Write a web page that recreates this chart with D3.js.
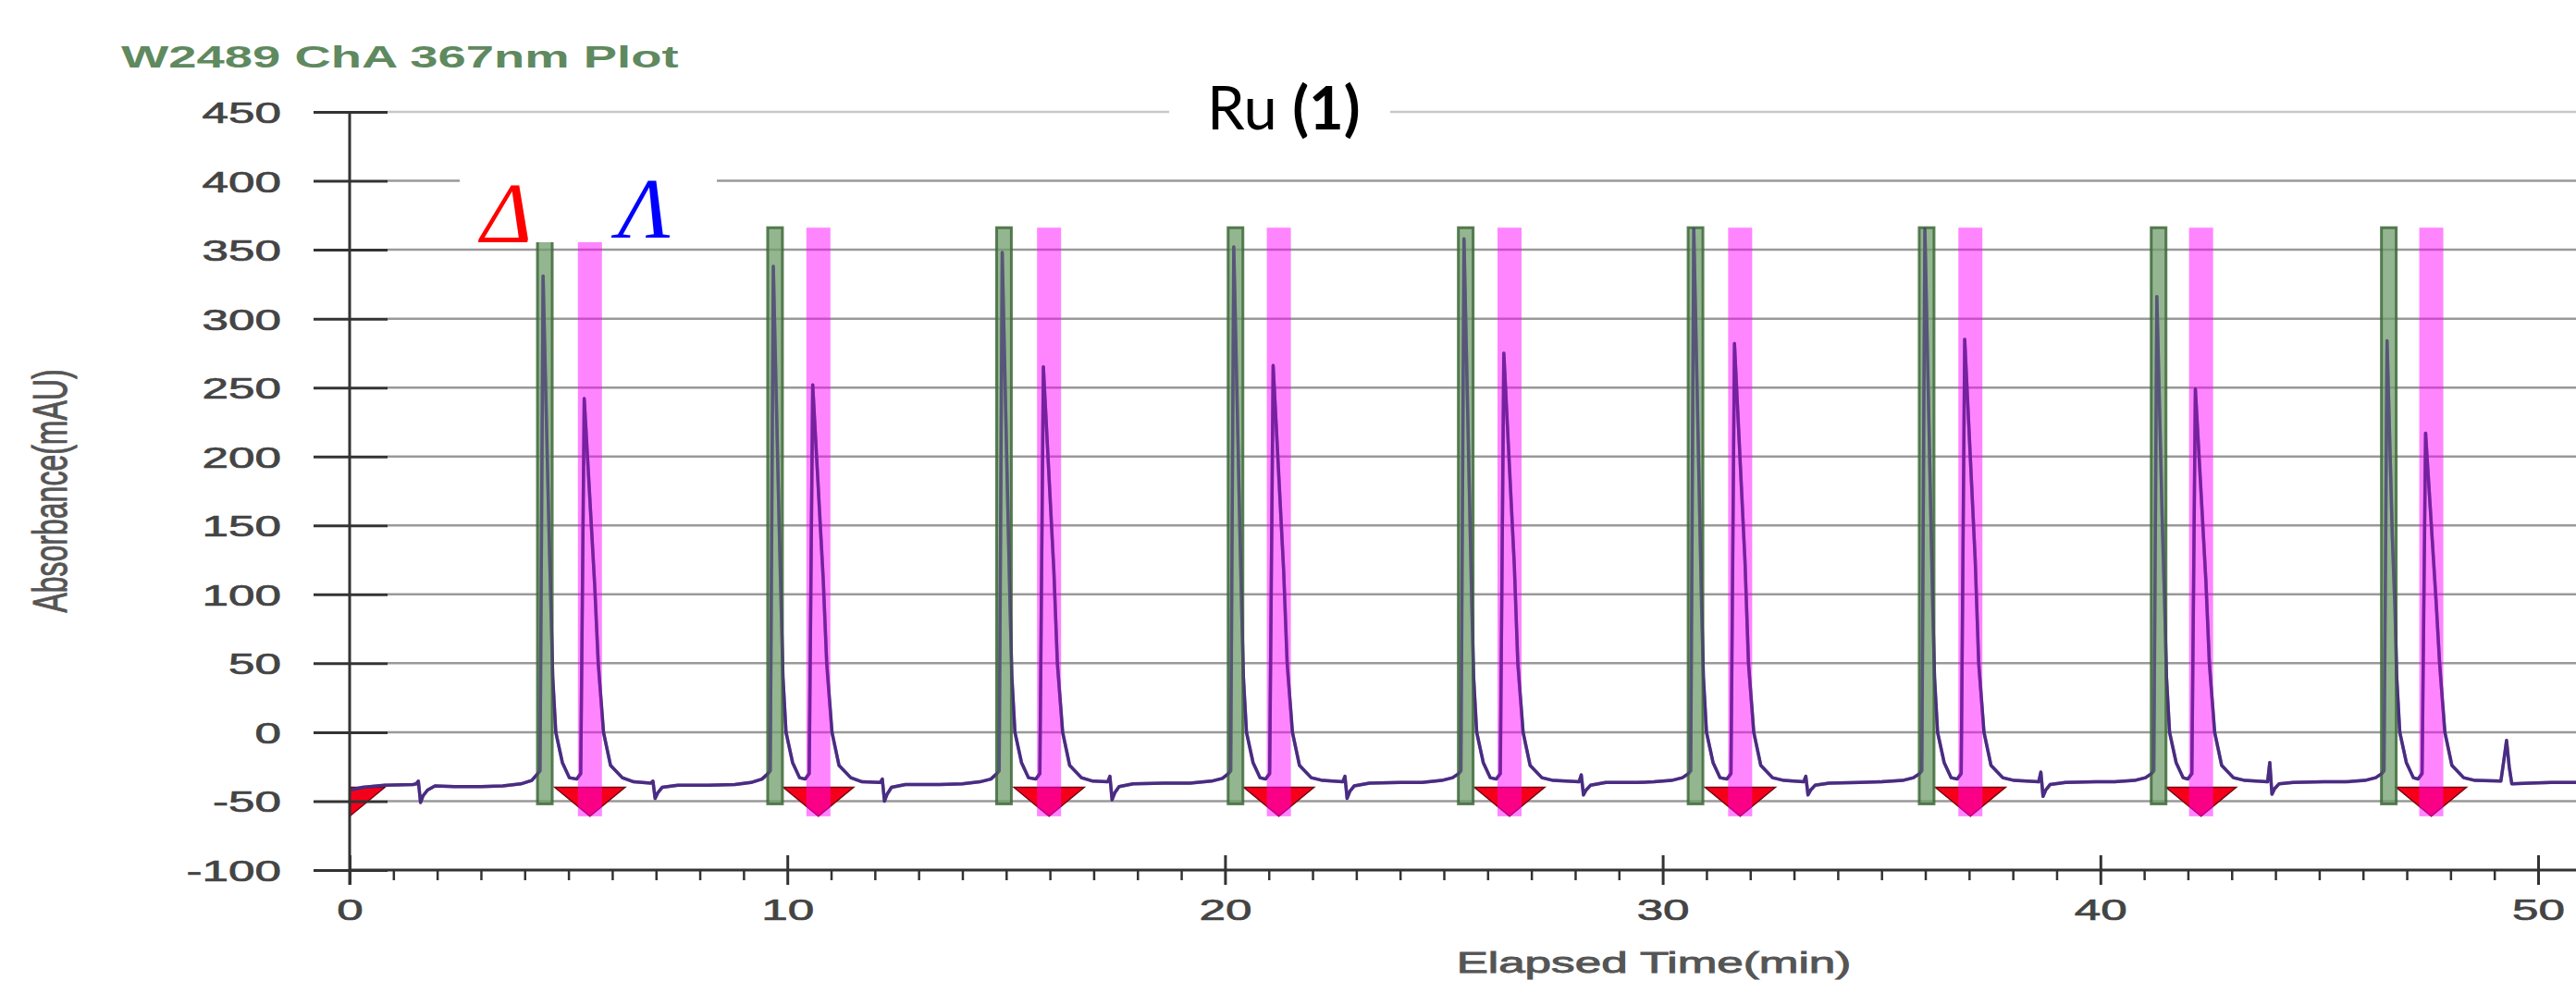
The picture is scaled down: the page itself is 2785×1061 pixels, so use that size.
<!DOCTYPE html>
<html lang="en">
<head>
<meta charset="UTF-8" />
<title>W2489 ChA 367nm Plot</title>
<style>
  html, body { margin: 0; padding: 0; background: #fff; }
  svg { display: block; }
  .sans { font-family: "Liberation Sans", Arial, sans-serif; }
</style>
</head>
<body>
<svg id="chart" width="2785" height="1061"></svg>
<script src="https://d3js.org/d3.v7.min.js"></script>
<script>
// axis ticks
const yTicks = [450, 400, 350, 300, 250, 200, 150, 100, 50, 0, -50, -100];
const xMajor = [0, 10, 20, 30, 40, 50];
const xMinor = [1,2,3,4,5,6,7,8,9,11,12,13,14,15,16,17,18,19,21,22,23,24,25,26,27,28,29,
                31,32,33,34,35,36,37,38,39,41,42,43,44,45,46,47,48,49];

// fraction windows (min): Δ in green, Λ in magenta, red markers
const deltaTimes  = [4.46, 9.72, 14.95, 20.24, 25.50, 30.75, 36.03, 41.33, 46.59];
const lambdaTimes = [5.49, 10.71, 15.98, 21.23, 26.50, 31.77, 37.03, 42.30, 47.56];
const markerTimes = [0, 5.49, 10.71, 15.98, 21.23, 26.50, 31.77, 37.03, 42.30, 47.56];

// detector trace [min, mAU]
const trace = [
  [0,-42],[0.3,-40],[0.8,-38.5],[1.45,-38],[1.52,-37.5],[1.57,-35.5],[1.62,-51],[1.68,-46],[1.78,-42],[1.95,-39],
  [2.4,-39.5],[3.0,-39.5],[3.5,-39],[3.91,-37.5],
  [4.16,-35],[4.30,-30],[4.35,-28],[4.42,331],[4.54,166],[4.60,90],[4.64,40],[4.71,0],[4.86,-22],[5.02,-33],
  [5.19,-34],[5.28,-30],[5.36,242],[5.60,106],[5.68,50],[5.80,0],[5.96,-24],[6.23,-33],[6.49,-36],
  [6.88,-37],[6.93,-35.5],[6.98,-48],[7.04,-44],[7.14,-40],[7.5,-38.5],[8.2,-38.5],[8.8,-38],[9.17,-36.5],
  [9.42,-34],[9.56,-30],[9.61,-28],[9.68,338],[9.80,169],[9.86,90],[9.90,40],[9.97,0],[10.12,-22],[10.28,-33],
  [10.41,-34],[10.50,-30],[10.58,252],[10.82,111],[10.90,50],[11.02,0],[11.18,-24],[11.45,-33],[11.71,-36],
  [12.12,-36.5],[12.17,-34],[12.22,-50],[12.28,-45],[12.38,-40],[12.7,-38],[13.4,-38],[14.0,-37.5],[14.40,-36],
  [14.65,-34],[14.79,-30],[14.84,-28],[14.91,348],[15.03,174],[15.09,90],[15.13,40],[15.20,0],[15.35,-22],[15.51,-33],
  [15.68,-34],[15.77,-30],[15.85,265],[16.09,117],[16.17,50],[16.29,0],[16.45,-24],[16.72,-33],[16.98,-35.5],
  [17.32,-36],[17.37,-32],[17.42,-49],[17.48,-44],[17.58,-39.5],[17.9,-37.5],[18.6,-37],[19.2,-37],[19.69,-35.5],
  [19.94,-33.5],[20.08,-30],[20.13,-28],[20.20,352],[20.32,176],[20.38,90],[20.42,40],[20.49,0],[20.64,-22],[20.80,-33],
  [20.93,-34],[21.02,-30],[21.10,266],[21.34,117],[21.42,50],[21.54,0],[21.70,-24],[21.97,-33],[22.23,-35],
  [22.69,-36],[22.74,-32],[22.79,-48],[22.85,-43],[22.95,-39],[23.3,-37],[24.0,-36.5],[24.5,-36.5],[24.95,-35],
  [25.20,-33],[25.34,-30],[25.39,-28],[25.46,358],[25.58,179],[25.64,90],[25.68,40],[25.75,0],[25.90,-22],[26.06,-33],
  [26.20,-34],[26.29,-30],[26.37,275],[26.61,121],[26.69,50],[26.81,0],[26.97,-24],[27.24,-33],[27.50,-35],
  [28.09,-36],[28.14,-31],[28.19,-45.5],[28.25,-42],[28.35,-38.5],[28.7,-36.5],[29.4,-36.5],[29.8,-36],[30.2,-35],
  [30.45,-33],[30.59,-30],[30.64,-28],[30.71,365],[30.83,182],[30.89,90],[30.93,40],[31.00,0],[31.15,-22],[31.31,-33],
  [31.47,-34],[31.56,-30],[31.64,282],[31.88,124],[31.96,50],[32.08,0],[32.24,-24],[32.51,-33],[32.77,-35],
  [33.22,-36],[33.27,-32],[33.32,-45.5],[33.38,-42],[33.48,-38.5],[33.8,-37],[34.5,-36.5],[35.0,-36],[35.48,-35],
  [35.73,-33],[35.87,-30],[35.92,-28],[35.99,365],[36.11,182],[36.17,90],[36.21,40],[36.28,0],[36.43,-22],[36.59,-33],
  [36.73,-34],[36.82,-30],[36.90,285],[37.14,125],[37.22,50],[37.34,0],[37.50,-24],[37.77,-33],[38.03,-35],
  [38.59,-36],[38.64,-29],[38.69,-46.5],[38.75,-42],[38.85,-38],[39.2,-36.5],[39.9,-36],[40.3,-36],[40.78,-35],
  [41.03,-33],[41.17,-30],[41.22,-28],[41.29,316],[41.41,158],[41.47,90],[41.51,40],[41.58,0],[41.73,-22],[41.89,-33],
  [42.00,-34],[42.09,-30],[42.17,249],[42.41,110],[42.49,50],[42.61,0],[42.77,-24],[43.04,-33],[43.30,-35],
  [43.82,-36],[43.87,-22],[43.92,-45],[43.98,-41],[44.08,-37.5],[44.4,-36.5],[45.1,-36],[45.6,-36],[46.04,-35],
  [46.29,-33],[46.43,-30],[46.48,-28],[46.55,284],[46.67,142],[46.73,90],[46.77,40],[46.84,0],[46.99,-22],[47.15,-33],
  [47.26,-34],[47.35,-30],[47.43,217],[47.67,95],[47.75,50],[47.87,0],[48.03,-24],[48.30,-33],[48.56,-35],
  [49.15,-35.5],[49.22,-20],[49.28,-6],[49.34,-25],[49.40,-37.5],[49.8,-37],[50.3,-36.5],[50.9,-36.5]
];

const W = 2785, H = 1061, SX = 1.6;   // source plot was stretched sideways
const svg = d3.select("#chart");

const x = d3.scaleLinear().domain([0, 50]).range([378, 2744]);
const y = d3.scaleLinear().domain([-100, 450]).range([941, 121]);

svg.append("defs").append("clipPath").attr("id", "plotClip")
  .append("rect").attr("x", 378).attr("y", 0).attr("width", W - 378).attr("height", 941);

// grid
svg.append("g").selectAll("line")
  .data(yTicks.filter(d => d > -100))
  .join("line")
  .attr("x1", 419).attr("x2", W)
  .attr("y1", d => y(d)).attr("y2", d => y(d))
  .attr("stroke", d => d === 450 ? "#c8c8c8" : "#999")
  .attr("stroke-width", 2.5);

const plot = svg.append("g").attr("clip-path", "url(#plotClip)");

// red fraction markers
plot.append("g").selectAll("path")
  .data(markerTimes)
  .join("path")
  .attr("d", d => `M${x(d) - 38},${y(-40)}L${x(d) + 38},${y(-40)}L${x(d)},${y(-61)}Z`)
  .attr("fill", "#f5001a")
  .attr("stroke", "#7a0010")
  .attr("stroke-width", 1.5);

const line = d3.line().x(d => x(d[0])).y(d => y(d[1]));

plot.append("path").datum(trace)
  .attr("d", line)
  .attr("fill", "none")
  .attr("stroke", "#4a2c82")
  .attr("stroke-width", 3.5)
  .attr("stroke-linejoin", "round");

// collection windows
plot.append("g").selectAll("rect")
  .data(deltaTimes)
  .join("rect")
  .attr("x", d => x(d) - 8).attr("width", 16)
  .attr("y", y(366)).attr("height", y(-52) - y(366))
  .attr("fill", "#6f9c69").attr("fill-opacity", 0.75)
  .attr("stroke", "#3e6a3a").attr("stroke-opacity", 0.85).attr("stroke-width", 3);

plot.append("g").selectAll("rect")
  .data(lambdaTimes)
  .join("rect")
  .attr("x", d => x(d) - 13).attr("width", 26)
  .attr("y", y(366)).attr("height", y(-61) - y(366))
  .attr("fill", "#ff00ff").attr("fill-opacity", 0.48);

plot.append("path").datum(trace)
  .attr("d", line)
  .attr("fill", "none")
  .attr("stroke", "#4a2c82")
  .attr("stroke-opacity", 0.5)
  .attr("stroke-width", 3.5)
  .attr("stroke-linejoin", "round");

// y axis
const yAxis = svg.append("g")
  .attr("transform", "translate(378,0)")
  .call(d3.axisLeft(y).tickValues(yTicks).tickSizeOuter(0).tickFormat(d => String(d)));
yAxis.select(".domain").remove();
yAxis.selectAll(".tick line")
  .attr("x1", 41).attr("x2", -39)
  .attr("stroke", "#333").attr("stroke-width", 3);
yAxis.selectAll(".tick text")
  .attr("class", "sans")
  .attr("x", -74 / SX).attr("dy", "0.36em")
  .attr("transform", `scale(${SX},1)`)
  .attr("font-size", 32).attr("fill", "#444")
  .attr("stroke", "#444").attr("stroke-width", 0.7);
svg.append("line")
  .attr("x1", 378).attr("x2", 378).attr("y1", 120).attr("y2", 957)
  .attr("stroke", "#333").attr("stroke-width", 3);

// x axis
const xAxis = svg.append("g")
  .attr("transform", `translate(0,${y(-100)})`)
  .call(d3.axisBottom(x).tickValues(xMajor).tickSizeOuter(0).tickFormat(d => String(d)));
xAxis.select(".domain").remove();
xAxis.selectAll(".tick line")
  .attr("y1", -16).attr("y2", 16)
  .attr("stroke", "#333").attr("stroke-width", 3);
xAxis.selectAll(".tick text")
  .attr("class", "sans")
  .attr("y", 54).attr("dy", 0)
  .attr("transform", `scale(${SX},1)`)
  .attr("font-size", 32).attr("fill", "#444")
  .attr("stroke", "#444").attr("stroke-width", 0.7);

const xMinorAxis = svg.append("g")
  .attr("transform", `translate(0,${y(-100)})`)
  .call(d3.axisBottom(x).tickValues(xMinor).tickSize(11).tickFormat(""));
xMinorAxis.select(".domain").remove();
xMinorAxis.selectAll(".tick line").attr("stroke", "#333").attr("stroke-width", 2.5);

svg.append("line")
  .attr("x1", 378).attr("x2", W).attr("y1", y(-100)).attr("y2", y(-100))
  .attr("stroke", "#333").attr("stroke-width", 3);

// titles
svg.append("text").attr("class", "sans")
  .attr("transform", `translate(131,73) scale(${SX},1)`)
  .attr("font-size", 34).attr("font-weight", "bold").attr("fill", "#5f895f")
  .text("W2489 ChA 367nm Plot");

svg.append("text").attr("class", "sans")
  .attr("transform", `translate(72,531) scale(${SX},1) rotate(-90)`)
  .attr("text-anchor", "middle")
  .attr("font-size", 32).attr("fill", "#555")
  .attr("stroke", "#555").attr("stroke-width", 0.6)
  .text("Absorbance(mAU)");

svg.append("text").attr("class", "sans")
  .attr("transform", `translate(1788,1052) scale(${SX},1)`)
  .attr("text-anchor", "middle")
  .attr("font-size", 32).attr("fill", "#555")
  .attr("stroke", "#555").attr("stroke-width", 0.9)
  .text("Elapsed Time(min)");

// pasted labels
svg.append("rect").attr("x", 1264).attr("y", 98).attr("width", 239).attr("height", 62).attr("fill", "#fff");
const ru = svg.append("text")
  .attr("x", 1305).attr("y", 140)
  .attr("font-family", "Lato, 'Open Sans', sans-serif")
  .attr("font-size", 65).attr("fill", "#000");
ru.append("tspan").text("Ru ");
ru.append("tspan").attr("font-weight", "bold").text("(1)");

svg.append("rect").attr("x", 497).attr("y", 170).attr("width", 278).attr("height", 92).attr("fill", "#fff");
svg.append("text")
  .attr("x", 520).attr("y", 262)
  .attr("font-family", "'Liberation Serif', 'DejaVu Serif', serif")
  .attr("font-style", "italic").attr("font-size", 94).attr("fill", "#ff0000")
  .text("Δ");
svg.append("text")
  .attr("x", 668).attr("y", 257)
  .attr("font-family", "'Liberation Serif', 'DejaVu Serif', serif")
  .attr("font-style", "italic").attr("font-size", 94).attr("fill", "#0000ff")
  .text("Λ");
</script>
</body>
</html>
